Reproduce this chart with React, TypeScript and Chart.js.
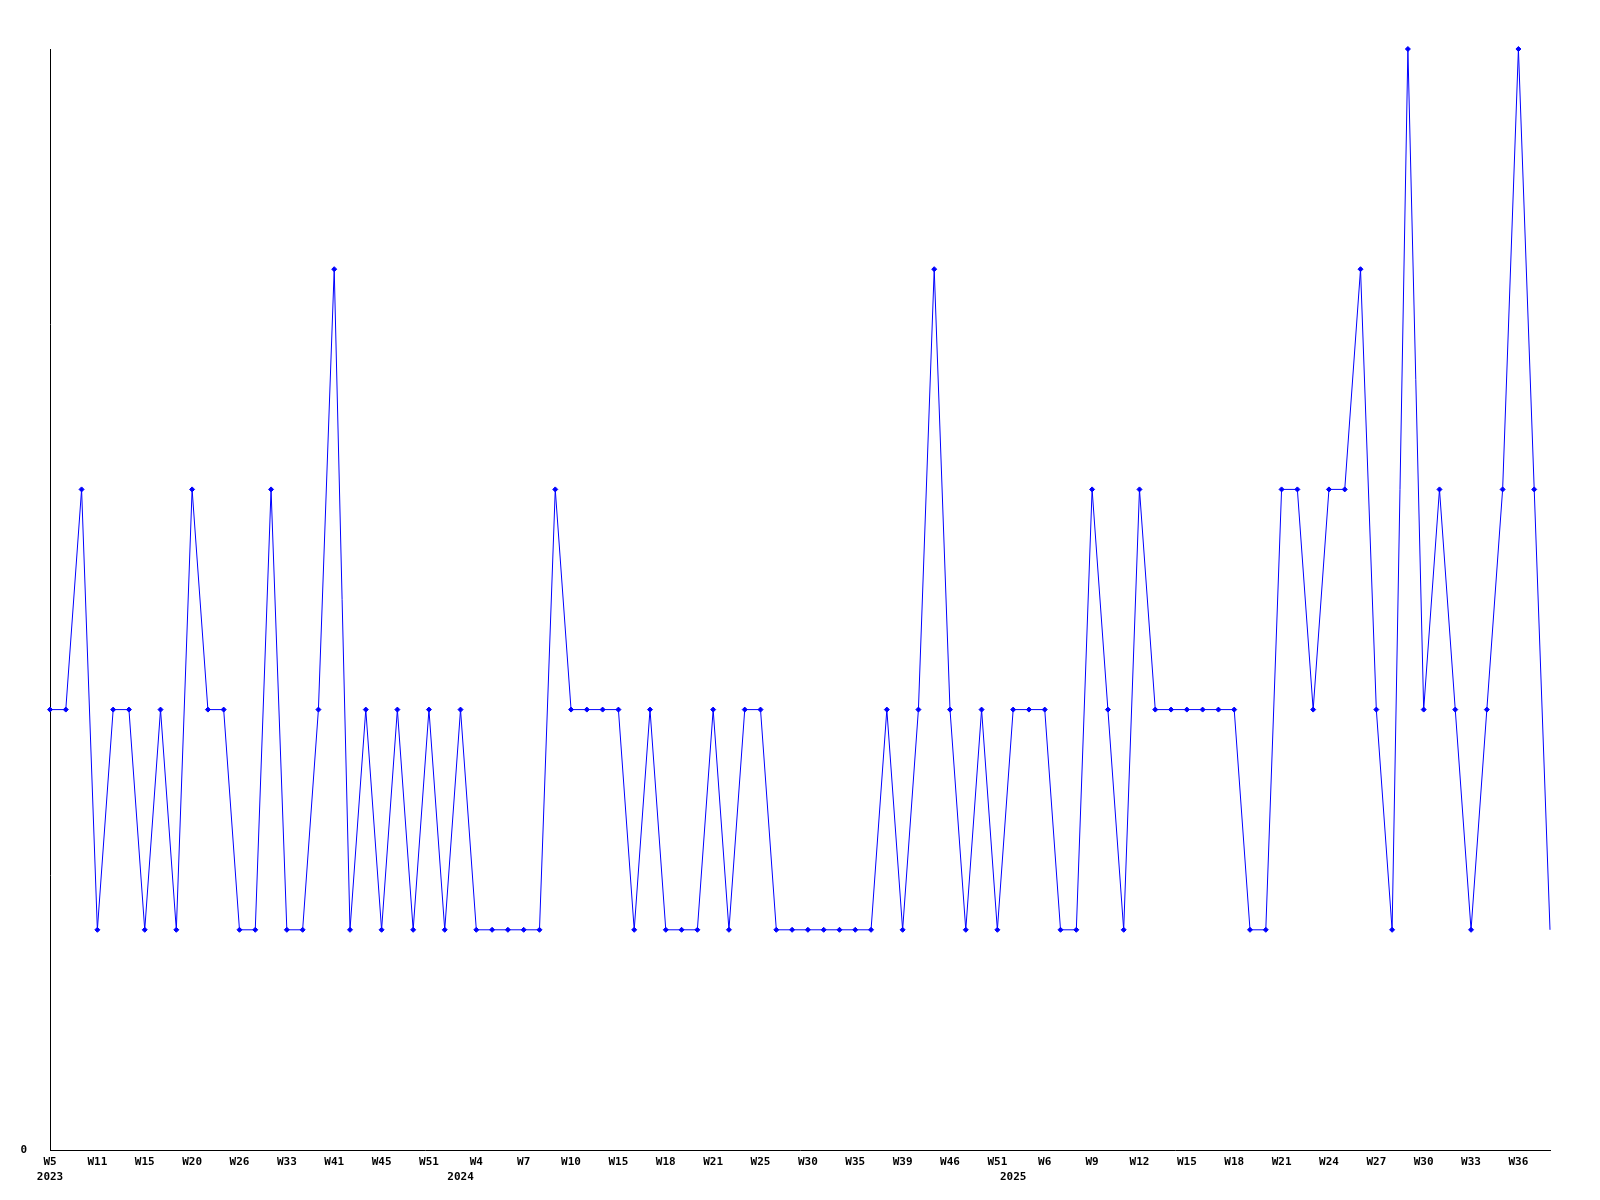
import React, { useEffect, useRef } from "react";
import { Chart, registerables } from "chart.js";

Chart.register(...registerables);

const weeks: string[] = [
  "W5", "W7", "W9", "W11", "W12", "W14", "W15", "W17", "W18", "W20",
  "W22", "W24", "W26", "W28", "W31", "W33", "W36", "W38", "W41", "W42",
  "W44", "W45", "W47", "W49", "W51", "W52", "W2", "W4", "W5", "W6",
  "W7", "W8", "W9", "W10", "W12", "W13", "W15", "W16", "W17", "W18",
  "W19", "W20", "W21", "W23", "W24", "W25", "W27", "W28", "W30", "W32",
  "W33", "W35", "W36", "W37", "W39", "W42", "W44", "W46", "W48", "W50",
  "W51", "W3", "W5", "W6", "W7", "W8", "W9", "W10", "W11", "W12",
  "W13", "W14", "W15", "W16", "W17", "W18", "W19", "W20", "W21", "W22",
  "W23", "W24", "W25", "W26", "W27", "W28", "W29", "W30", "W31", "W32",
  "W33", "W34", "W35", "W36", "W37", "W38",
];

const yearStarts: number[] = [0, 26, 61];
const yearLabels: string[] = ["2023", "2024", "2025"];

const counts: number[] = [
  2, 2, 3, 1, 2, 2, 1, 2, 1, 3,
  2, 2, 1, 1, 3, 1, 1, 2, 4, 1,
  2, 1, 2, 1, 2, 1, 2, 1, 1, 1,
  1, 1, 3, 2, 2, 2, 2, 1, 2, 1,
  1, 1, 2, 1, 2, 2, 1, 1, 1, 1,
  1, 1, 1, 2, 1, 2, 4, 2, 1, 2,
  1, 2, 2, 2, 1, 1, 3, 2, 1, 3,
  2, 2, 2, 2, 2, 2, 1, 1, 3, 3,
  2, 3, 3, 4, 2, 1, 5, 2, 3, 2,
  1, 2, 3, 5, 3, 1,
];

const labelEvery = 3;
const FONT = { family: "'DejaVu Sans Mono', monospace", size: 11, weight: "bold" as const, lineHeight: 1.35 };

export default function App() {
  const ref = useRef<HTMLCanvasElement | null>(null);

  useEffect(() => {
    if (!ref.current) return;
    const last = counts.length - 1;
    const chart = new Chart(ref.current, {
      type: "line",
      data: {
        labels: weeks,
        datasets: [
          {
            data: counts,
            borderColor: "#0000ff",
            backgroundColor: "#0000ff",
            borderWidth: 1,
            pointStyle: "rectRot",
            pointRadius: (ctx: any) => (ctx.dataIndex === last ? 0 : 2.5),
            pointBorderWidth: 1,
            pointBorderColor: "#0000ff",
            pointBackgroundColor: "#0000ff",
            tension: 0,
            fill: false,
            clip: false as any,
          },
        ],
      },
      options: {
        responsive: false,
        animation: false,
        events: [],
        layout: { padding: { top: 49, right: 50, left: 0, bottom: 0 } },
        plugins: {
          legend: { display: false },
          tooltip: { enabled: false },
          title: { display: false },
        },
        scales: {
          x: {
            type: "category",
            offset: false,
            grid: { display: false, drawTicks: false, tickLength: 0 },
            border: { display: true, color: "#000000", width: 1 },
            ticks: {
              autoSkip: false,
              maxRotation: 0,
              minRotation: 0,
              padding: 5,
              color: "#000000",
              font: FONT,
              callback: (_v: any, index: number) => {
                const wk = index % labelEvery === 0 ? weeks[index] : "";
                const yi = yearStarts.indexOf(index);
                if (yi >= 0) return [wk, yearLabels[yi]];
                return wk;
              },
            },
            afterFit: (s: any) => {
              s.height = 50;
            },
          },
          y: {
            min: 0,
            max: 5,
            grid: { display: false, drawTicks: false, tickLength: 0 },
            border: { display: true, color: "#000000", width: 1 },
            ticks: {
              stepSize: 1,
              padding: 23,
              color: "#000000",
              font: FONT,
              callback: (v: any) => (v === 0 ? "0" : ""),
            },
            afterFit: (s: any) => {
              s.width = 50;
            },
          },
        },
      },
    });
    return () => chart.destroy();
  }, []);

  return (
    <div style={{ position: "absolute", left: 0, top: 0, width: 1600, height: 1200, background: "#ffffff" }}>
      <canvas ref={ref} width={1600} height={1200} style={{ display: "block" }} />
    </div>
  );
}
